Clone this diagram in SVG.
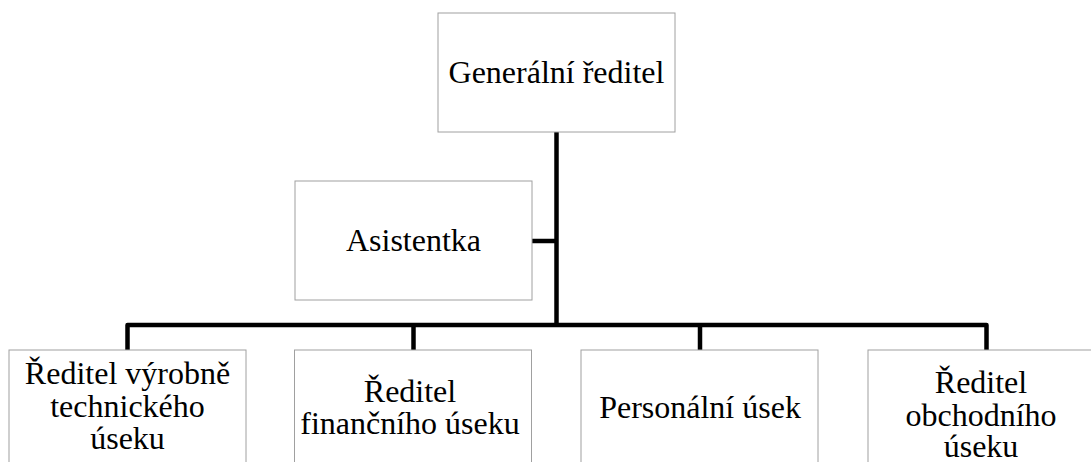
<svg xmlns="http://www.w3.org/2000/svg" width="1091" height="462" viewBox="0 0 1091 462" font-family="'Liberation Serif', 'Times New Roman', serif" font-size="32">
<style>
.box{fill:#fff;stroke:#a0a0a0;stroke-width:1}
.c{fill:none;stroke:#000;stroke-width:4.5;stroke-linejoin:round}
text{font-family:'Liberation Serif','Times New Roman',serif;font-size:32px;text-anchor:middle;fill:#000}
</style>
<rect width="1091" height="462" fill="#fff"/>
<g id="connectors">
<path class="c" d="M556.5 132V325"/>
<path class="c" d="M532 241H556.5"/>
<path class="c" d="M127.5 350V325H986.5V350"/>
<path class="c" d="M413.5 325V350"/>
<path class="c" d="M700 325V350"/>
</g>
<g id="n-general"><rect class="box" x="438" y="13" width="237" height="119"/><text x="556.5" y="83">Generální ředitel</text></g>
<g id="n-asistentka"><rect class="box" x="295" y="181" width="237" height="119"/><text x="413.5" y="251">Asistentka</text></g>
<g id="n-vyroba"><rect class="box" x="9" y="350" width="237" height="130"/><text x="127.5" y="384">Ředitel výrobně</text><text x="127.5" y="417">technického</text><text x="127.5" y="449">úseku</text></g>
<g id="n-finance"><rect class="box" x="294.5" y="350" width="237" height="130"/><text x="410" y="401.5">Ředitel</text><text x="410" y="434">finančního úseku</text></g>
<g id="n-personal"><rect class="box" x="581" y="350" width="237" height="130"/><text x="700" y="418">Personální úsek</text></g>
<g id="n-obchod"><rect class="box" x="868" y="350" width="237" height="130"/><text x="981" y="393">Ředitel</text><text x="981" y="425.5">obchodního</text><text x="981" y="457">úseku</text></g>
</svg>
